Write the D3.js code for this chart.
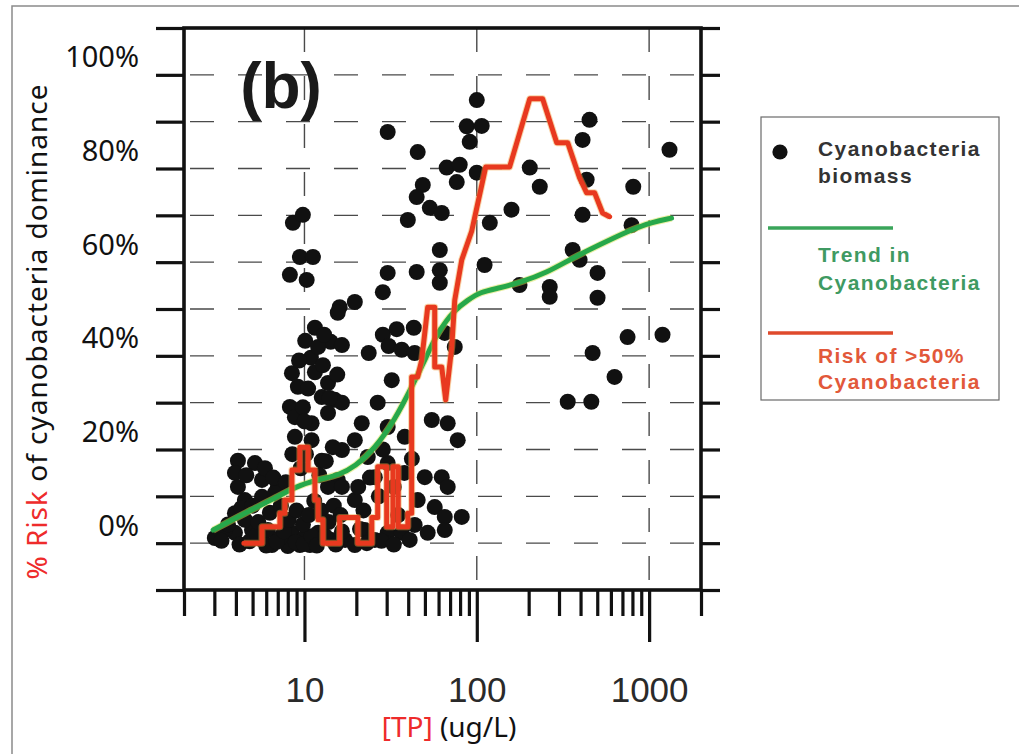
<!DOCTYPE html>
<html lang="en">
<head>
<meta charset="UTF-8">
<title>Risk of cyanobacteria dominance vs TP</title>
<script src="https://d3js.org/d3.v7.min.js"></script>
<style>
  body { margin: 0; background: #fff; }
  svg { display: block; }
  .legend-text { font-family: "Liberation Sans", Arial, sans-serif; font-weight: bold; font-size: 21px; letter-spacing: 1.4px; }
</style>
</head>
<body>
<div id="chart"></div>
<script>
// cyanobacteria biomass points: TP (ug/L) and % cyanobacteria
const biomassTP = [100, 30.4, 45.4, 87.4, 106.8, 91, 66.9, 79.6, 76.5, 100, 48.6, 44.8, 53.4, 62.6, 39.8, 8.57, 9.79, 9.41, 11.2, 8.23,
  10.3, 30.4, 28.5, 44.8, 61, 61, 61, 111, 16, 19.6, 451, 411, 1313, 203, 232, 159, 119, 434, 411, 809,
  791, 177, 265, 265, 360, 395, 502, 502, 750, 1196, 470, 630, 337, 462,
  15.6, 11.5, 10.1, 14.2, 16.5, 10.9, 23.6, 28.5, 34.3, 30.8, 36.7, 43.6, 43.1, 65.2, 74.5,
  12, 8.46, 9.16, 13.7, 12.6, 15, 8.23, 8.8, 11, 8.8, 13.7, 12.6, 4.11, 5.16, 3.95, 4.11, 7.01, 5.67, 4.51, 3.95,
  5.67, 6.74, 15.6, 13.7, 3.02, 3.95, 4.96, 8.46, 10.1, 12, 14.4, 8.01, 32.1, 16.5, 26.6, 30.4, 21.5, 19.6, 16.5, 23.3,
  30.4, 38.2, 54.8, 67.8, 77.5, 49.9, 62.6, 67.8, 45.4, 57, 65.2, 81.8, 30.4, 36.7, 51.9, 65.2, 19.6, 16.5, 25.6,
  3.46, 5.67, 6.47, 9.41, 17.2, 19.6, 22.4, 25.6, 40.8, 6.14, 7.2, 10.75, 4.51, 43.6,
  3.3, 4.2, 4.8, 5.3, 6.0, 6.9, 7.6, 8.9, 9.9, 11, 11.8, 13.2, 15.2, 16.5,
  3.6, 4.3, 5.0, 5.4, 6.3, 7.3, 8.1, 9.0, 9.8, 10.6, 11.4, 12.5, 13.8, 14.8, 16.2,
  4.6, 5.9, 6.6, 7.8, 9.5, 10.2, 11.0, 12.2, 13.3, 14.6, 8.5,
  9.8, 10.5, 11.5, 12.8, 14, 9.3, 13, 15.5, 10,
  20.5, 22, 24, 27, 28.5, 33, 35, 38, 42, 21, 23, 28, 33];
const biomassPct = [94.6, 87.8, 83.5, 89, 89.1, 85.7, 80.2, 80.8, 77.1, 79.1, 76.5, 73.9, 71.6, 70.5, 69, 68.4, 70.1, 61.1, 61.1, 57.3,
  56.2, 57.7, 53.6, 57.9, 62.6, 58.3, 55.6, 59.4, 50.4, 51.5, 90.4, 86.1, 84, 80.2, 76.1, 71.2, 68.4, 77.6, 70.1, 76.1,
  67.9, 55.1, 54.7, 52.6, 62.6, 60.5, 57.7, 52.4, 44, 44.5, 40.6, 35.5, 30.2, 30.2,
  49.2, 46, 43.2, 43, 42.3, 39.6, 40.6, 44.5, 45.7, 42.1, 41.3, 40.6, 46, 44.9, 41.9,
  41.9, 36.3, 33.4, 34.2, 31.2, 30.6, 29.1, 26.9, 25.6, 22.7, 27.8, 17.6, 17.6, 17.1, 15, 12, 12, 13.5, 9.2, 6.4,
  9.9, 10.7, 13.5, 12, 1.1, 2.2, 2.8, 2.2, 1.3, 2.2, 0.7, -0.6, 34.8, 30, 30, 24.8, 25.6, 22, 19.9, 18.4,
  17.1, 22.7, 26.3, 25.6, 22, 14.1, 14.1, 12, 9.2, 7.7, 5.6, 5.6, 2.2, 2.2, 2.2, 2.8, 9.2, 12, 14.1,
  2.8, 0.7, -0.4, -0.4, 0.7, -0.4, 2.8, 0.7, 0.7, 2.8, 1.1, -0.4, 5, 3.9,
  0.5, -0.3, 0.4, 1.8, -0.5, 0.3, 2.5, 0.2, -0.2, 1.5, -0.5, 1.5, -0.3, 2.5,
  4, 7.5, 8, 4.5, 6.5, 8, 5, 7, 4, 6, 9, 7, 4.5, 8, 6,
  14.5, 16, 14, 13, 16, 19, 22, 14.5, 17.5, 20.5, 19,
  29, 33, 36.5, 38, 31, 39, 44.5, 36, 26,
  12, 7, 14, 10, 20, 12, 6, 15, 18, 3, 0, 0.5, -0.3];

// trend in cyanobacteria (green)
const trendTP = [2.95, 4.5, 7.0, 8.8, 12, 16, 19.6, 25.6, 33.4, 42, 50, 59, 74, 89, 104, 136, 177, 254, 360, 516, 740, 1047, 1350];
const trendPct = [2.8, 6.4, 9.9, 12.0, 13.6, 14.6, 16.3, 20.2, 26.3, 33.4, 39.1, 44.9, 49.8, 51.9, 53.6, 54.5, 55.6, 57.7, 60.9, 63.7, 66.5, 68.6, 69.4];

// risk of >50% cyanobacteria (red, stepped)
const riskTP = [4.45, 5.67, 5.67, 7.2, 7.2, 7.7, 7.7, 8.46, 8.46, 9.4, 9.4, 10.5, 10.5, 11.5, 11.5, 12, 12, 12.8, 12.8, 16,
  16, 20.4, 20.4, 24.6, 24.6, 26.6, 26.6, 30, 30, 32.6, 32.6, 35, 35, 39.8, 39.8, 41.9, 41.9, 45.4, 47.9, 51.9,
  57, 57, 62.6, 66, 71.6, 74.5, 81.8, 93.4, 112.6, 155, 203, 241, 291, 337, 395, 434, 483, 537, 590];
const riskPct = [0, 0, 3.5, 3.5, 6.4, 6.4, 9.2, 9.2, 15.6, 15.6, 20.5, 20.5, 15.6, 15.6, 9.2, 9.2, 5, 5, 0, 0,
  5.5, 5.5, 0, 0, 5.5, 5.5, 16.3, 16.3, 3.5, 3.5, 16.3, 16.3, 3.5, 3.5, 6.4, 6.4, 35.5, 35.5, 39.1, 50.4,
  50.4, 37.6, 37.6, 30.6, 41.9, 51.9, 60.5, 66.6, 80.3, 80.3, 94.9, 94.9, 85.5, 85.5, 78, 74.8, 74.8, 70.5, 69.7];

const yLabels = [0, 20, 40, 60, 80, 100];
const xLabels = [10, 100, 1000];

const width = 1019, height = 754;
const svg = d3.select("#chart").append("svg")
  .attr("width", width).attr("height", height);

// outer grey frame of the figure
svg.append("rect").attr("x", 12).attr("y", 6).attr("width", 1020).attr("height", 760)
  .attr("fill", "#fff").attr("stroke", "#8a8a8a").attr("stroke-width", 1.5);

const x = d3.scaleLog().domain([2, 2000]).range([184, 701]);
const y = d3.scaleLinear().domain([-10, 110]).range([590, 28]);

// dashed grid
svg.append("g").selectAll("line").data(d3.range(0, 101, 10)).join("line")
  .attr("x1", x(2) + 6).attr("x2", x(2000))
  .attr("y1", d => y(d)).attr("y2", d => y(d))
  .attr("stroke", "#4a4a4a").attr("stroke-width", 1.4).attr("stroke-dasharray", "24,24");
svg.append("g").selectAll("line").data(xLabels).join("line")
  .attr("x1", d => x(d)).attr("x2", d => x(d))
  .attr("y1", y(110)).attr("y2", y(-10))
  .attr("stroke", "#4a4a4a").attr("stroke-width", 1.4).attr("stroke-dasharray", "24,24");

// scatter
svg.append("g").selectAll("circle").data(d3.range(biomassTP.length)).join("circle")
  .attr("cx", i => x(biomassTP[i])).attr("cy", i => y(biomassPct[i]))
  .attr("r", 8).attr("fill", "#111");

// trend line
const trendLine = d3.line().x(i => x(trendTP[i])).y(i => y(trendPct[i])).curve(d3.curveBasis);
svg.append("path").datum(d3.range(trendTP.length)).attr("d", trendLine)
  .attr("fill", "none").attr("stroke", "#d6e04a").attr("stroke-width", 7).attr("opacity", 0.5);
svg.append("path").datum(d3.range(trendTP.length)).attr("d", trendLine)
  .attr("fill", "none").attr("stroke", "#27a84a").attr("stroke-width", 5).attr("stroke-linecap", "round");

// risk line
const riskLine = d3.line().x(i => x(riskTP[i])).y(i => y(riskPct[i]));
svg.append("path").datum(d3.range(riskTP.length)).attr("d", riskLine)
  .attr("fill", "none").attr("stroke", "#f0a040").attr("stroke-width", 7).attr("opacity", 0.45)
  .attr("stroke-linejoin", "round");
svg.append("path").datum(d3.range(riskTP.length)).attr("d", riskLine)
  .attr("fill", "none").attr("stroke", "#e8391f").attr("stroke-width", 5)
  .attr("stroke-linejoin", "round").attr("stroke-linecap", "round");

// axes frame and ticks
const yTickVals = d3.range(-10, 111, 10);
const axisLeft = svg.append("g").attr("transform", `translate(${x(2)},0)`)
  .call(d3.axisLeft(y).tickValues(yTickVals).tickSize(28).tickFormat(""));
const axisRight = svg.append("g").attr("transform", `translate(${x(2000)},0)`)
  .call(d3.axisRight(y).tickValues(yTickVals).tickSize(19).tickFormat(""));
const minorX = x.ticks().filter(d => !xLabels.includes(d));
const axisMinor = svg.append("g").attr("transform", `translate(0,${y(-10)})`)
  .call(d3.axisBottom(x).tickValues(minorX).tickSize(26).tickFormat(""));
const axisMajor = svg.append("g").attr("transform", `translate(0,${y(-10)})`)
  .call(d3.axisBottom(x).tickValues(xLabels).tickSize(52).tickFormat(d3.format("d")));
[axisLeft, axisRight, axisMinor, axisMajor].forEach(g => {
  g.select(".domain").remove();
  g.selectAll(".tick line").attr("stroke", "#111").attr("stroke-width", 3.2);
});
axisMajor.selectAll(".tick text")
  .attr("font-family", "'Liberation Sans', Arial, sans-serif").attr("font-size", 35)
  .attr("fill", "#2a2a2a").attr("y", 112).attr("dy", 0);

svg.append("rect")
  .attr("x", x(2)).attr("y", y(110))
  .attr("width", x(2000) - x(2)).attr("height", y(-10) - y(110))
  .attr("fill", "none").attr("stroke", "#111").attr("stroke-width", 3.6);

// y labels (sit a little above their gridlines, as in the figure)
svg.append("g").selectAll("text").data(yLabels).join("text")
  .attr("x", 139).attr("y", d => y(d) - 19)
  .attr("text-anchor", "end").attr("dominant-baseline", "central")
  .attr("font-family", "'Noto Sans', sans-serif").attr("font-size", 29).attr("fill", "#111")
  .text(d => d + "%");

// axis titles
const yTitle = svg.append("text")
  .attr("transform", "translate(47,332) rotate(-90)")
  .attr("text-anchor", "middle")
  .attr("font-family", "'Noto Sans', sans-serif").attr("font-size", 28)
  .attr("textLength", 495).attr("lengthAdjust", "spacing");
yTitle.append("tspan").attr("fill", "#ee2b2b").text("% Risk");
yTitle.append("tspan").attr("fill", "#111").text(" of cyanobacteria dominance");

const xTitle = svg.append("text")
  .attr("x", 449).attr("y", 737).attr("text-anchor", "middle")
  .attr("font-family", "'Noto Sans', sans-serif").attr("font-size", 28);
xTitle.append("tspan").attr("fill", "#ee2b2b").text("[TP]");
xTitle.append("tspan").attr("fill", "#111").text(" (ug/L)");

// panel label
svg.append("text").attr("x", 281).attr("y", 108).attr("text-anchor", "middle")
  .attr("font-family", "'Liberation Sans', Arial, sans-serif").attr("font-weight", "bold")
  .attr("font-size", 64).attr("fill", "#1a1a1a").text("(b)");

// legend
const legend = svg.append("g");
legend.append("rect").attr("x", 761).attr("y", 117).attr("width", 238).attr("height", 283)
  .attr("fill", "#fff").attr("stroke", "#6a6a6a").attr("stroke-width", 1.2);
legend.append("circle").attr("cx", 780).attr("cy", 152).attr("r", 7.6).attr("fill", "#111");
legend.append("text").attr("class", "legend-text").attr("x", 818).attr("y", 156).attr("fill", "#333").text("Cyanobacteria");
legend.append("text").attr("class", "legend-text").attr("x", 818).attr("y", 183).attr("fill", "#333").text("biomass");
legend.append("line").attr("x1", 768).attr("x2", 893).attr("y1", 228).attr("y2", 228)
  .attr("stroke", "#3aa55a").attr("stroke-width", 3.5);
legend.append("text").attr("class", "legend-text").attr("x", 818).attr("y", 262).attr("fill", "#3f9a62").text("Trend in");
legend.append("text").attr("class", "legend-text").attr("x", 818).attr("y", 290).attr("fill", "#3f9a62").text("Cyanobacteria");
legend.append("line").attr("x1", 768).attr("x2", 893).attr("y1", 333).attr("y2", 333)
  .attr("stroke", "#df4a2c").attr("stroke-width", 3.5);
legend.append("text").attr("class", "legend-text").attr("x", 818).attr("y", 363).attr("fill", "#e2583a").text("Risk of >50%");
legend.append("text").attr("class", "legend-text").attr("x", 818).attr("y", 389).attr("fill", "#e2583a").text("Cyanobacteria");
</script>
</body>
</html>
